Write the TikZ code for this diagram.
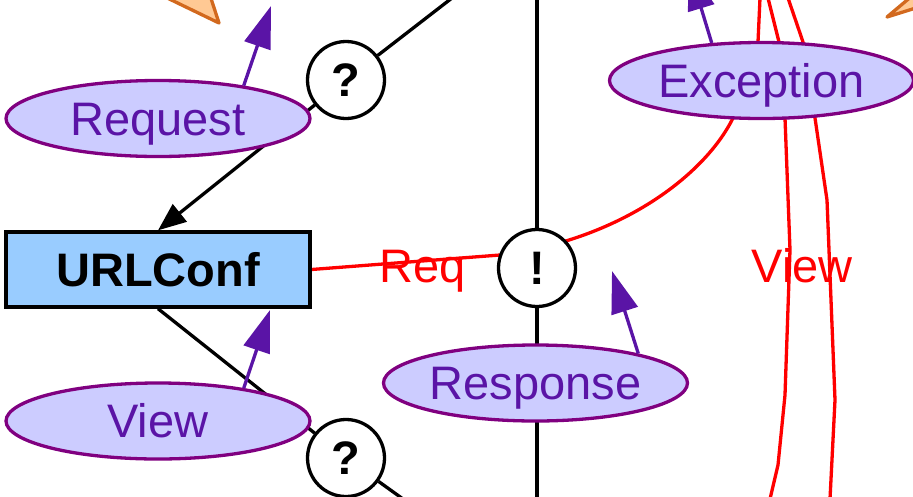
\documentclass[tikz,border=0pt]{standalone}
\usepackage{fontspec}
\setmainfont{Liberation Sans}
\usepackage{tikz}
\usetikzlibrary{arrows.meta,shapes.geometric}
\definecolor{lavender}{HTML}{CCCCFF}
\definecolor{plum}{HTML}{800080}
\definecolor{violet}{HTML}{5A14A6}
\definecolor{skyblue}{HTML}{99CCFF}
\definecolor{peach}{HTML}{FFC994}
\definecolor{rust}{HTML}{D2691E}
\definecolor{redline}{HTML}{FF0000}
\pgfdeclarelayer{bg}
\pgfsetlayers{bg,main}
\newcommand{\bigfont}{\fontsize{47}{50}\selectfont}

\begin{document}
\begin{tikzpicture}[x=1pt,y=-1pt,
  txt/.style={text height=36pt,text depth=3pt,inner sep=0pt},
  msg/.style={txt,ellipse,draw=plum,fill=lavender,line width=3.3pt,text=violet,
    minimum width=304pt,minimum height=76pt,font=\bigfont},
  conf/.style={txt,rectangle,draw=black,fill=skyblue,line width=3.3pt,
    minimum width=304pt,minimum height=75pt,font=\bigfont\bfseries},
  sign/.style={txt,circle,draw=black,fill=white,line width=3.3pt,
    minimum size=77pt,font=\bigfont\bfseries},
  edge/.style={draw=black,line width=3.3pt},
  redge/.style={draw=redline,line width=3.3pt},
  poke/.style={draw=violet,line width=3.3pt,-{Triangle[length=42pt,width=27pt]}},
  redlabel/.style={txt,text=redline,font=\bigfont},
  cone/.style={draw=rust,fill=peach,line width=3.3pt,line join=round}]
\useasboundingbox (0,0) rectangle (913,496);
\clip (0,0) rectangle (913,496);

\node[conf] (urlconf) at (158,269.5) {URLConf};
\node[msg] (req) at (158,118.5) {Request};
\node[msg] (view) at (158,421) {View};
\node[msg] (resp) at (535.5,383) {Response};
\node[msg] (exc) at (761.5,80.5) {Exception};
\node[sign] (q1) at (346,80) {?};
\node[sign] (q2) at (346,458) {?};
\node[sign] (excl) at (537,268) {!};
\node[redlabel] (reqlbl) at (423,266) {Req};
\node[redlabel] (viewlbl) at (802,266) {View};

\coordinate (topq) at (452,-2);
\coordinate (botq) at (403,499);
\coordinate (topb) at (537,-2);
\coordinate (botb) at (537,499);
\coordinate (topa) at (760,-2);
\coordinate (topc) at (768,-2);
\coordinate (topd) at (788,-2);
\coordinate (botc) at (770,499);
\coordinate (botd) at (830,499);

\begin{pgfonlayer}{bg}
\draw[edge] (topq) -- (q1);
\draw[edge,-{Triangle[length=28pt,width=22pt]}] (q1) -- (urlconf.north);
\draw[edge] (urlconf.south) -- (q2) -- (botq);
\draw[edge] (topb) -- (excl) -- (botb);
\draw[redge] (urlconf.east) -- (500,255) .. controls (620,240) and (705,175) .. (733,118)
  .. controls (745,90) and (757,62) .. (758,42) -- (topa);
\draw[redge] (topc) -- (779,42) -- (785,118) -- (790,250) -- (785,395) -- (778,465) -- (botc);
\draw[redge] (topd) -- (803,42) -- (815,118) -- (827,200) -- (835,400) -- (botd);
\end{pgfonlayer}

\draw[poke] (req.21) -- (271,6);
\draw[poke] (view.21) -- (270,310);
\draw[poke] (resp.16) -- (612,271);
\draw[poke] (exc.143) -- (689,-32);

\draw[cone] (219,23) -- (130,-20) -- (205,-20) -- cycle;
\draw[cone] (887,17) -- (925,-15) -- (935,2) -- cycle;
\end{tikzpicture}
\end{document}
